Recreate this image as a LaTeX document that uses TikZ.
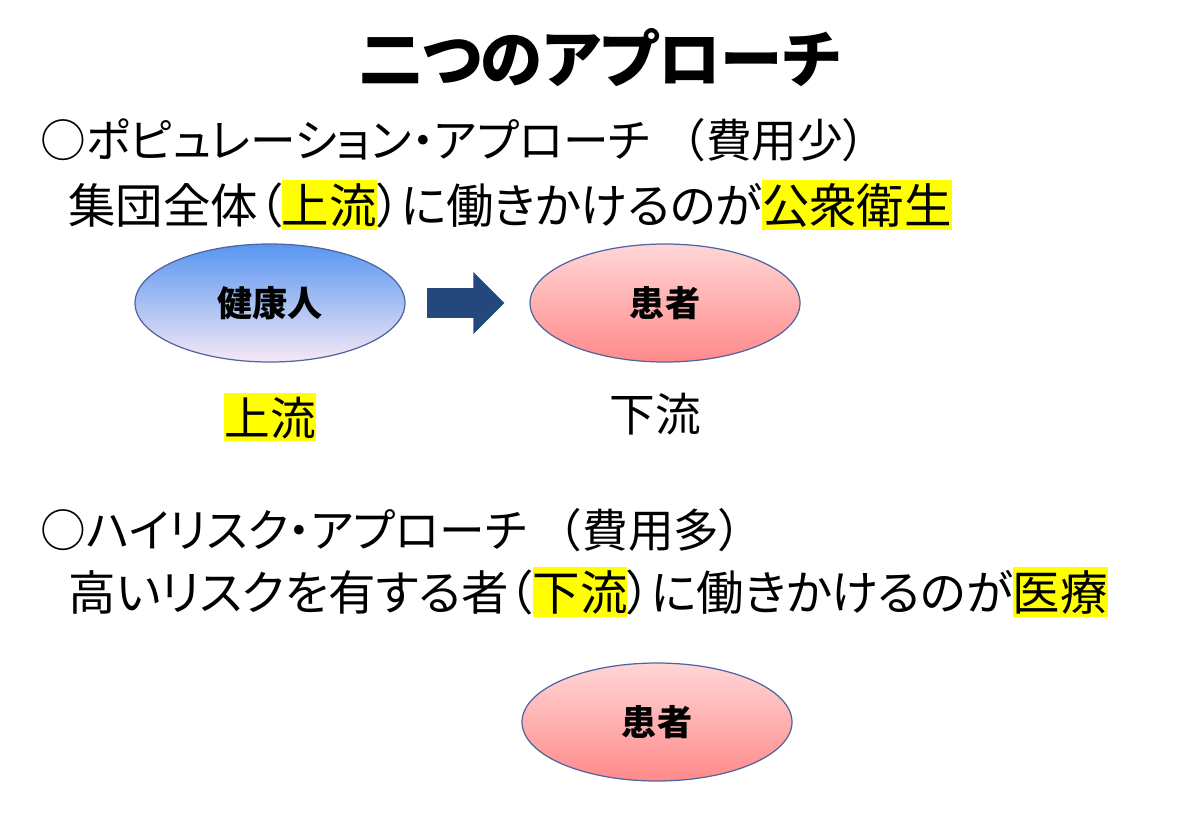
\documentclass[tikz,border=0pt]{standalone}
\usepackage{fontspec}
\setmainfont{Noto Sans CJK JP}[RawFeature=+palt]
\usepackage{xcolor}
\usetikzlibrary{shapes.geometric, positioning, arrows.meta}
\definecolor{hlyellow}{RGB}{255,255,0}
\definecolor{arrowblue}{RGB}{36,72,124}
\definecolor{rimblue}{RGB}{80,100,160}
\newcommand{\hl}[1]{{\setlength{\fboxsep}{0pt}\colorbox{hlyellow}{\rule[-0.14em]{0pt}{1.06em}#1}}}
\newcommand{\wideparen}{{\addfontfeature{RawFeature=-palt}（}}
\tikzstyle{heading} = [font=\fontsize{35.5pt}{40pt}\selectfont\bfseries]
\tikzstyle{textline} = [anchor=west, inner sep=0pt, font=\fontsize{26pt}{30pt}\selectfont]
\tikzstyle{bodyline} = [anchor=west, inner sep=0pt, font=\fontsize{27pt}{32pt}\selectfont]
\tikzstyle{streamlabel} = [inner sep=0pt, font=\fontsize{26pt}{30pt}\selectfont]
\tikzstyle{healthy} = [ellipse, minimum width=5.4cm, minimum height=2.36cm, draw=rimblue, line width=0.7pt, top color={rgb,255:red,88;green,150;blue,240}, bottom color={rgb,255:red,246;green,232;blue,246}, font=\fontsize{20pt}{24pt}\selectfont\bfseries]
\tikzstyle{patient} = [ellipse, minimum width=5.4cm, minimum height=2.36cm, draw=rimblue, line width=0.7pt, top color={rgb,255:red,255;green,214;blue,214}, bottom color={rgb,255:red,255;green,138;blue,138}, font=\fontsize{20pt}{24pt}\selectfont\bfseries]
\tikzstyle{blockarrow} = [draw=arrowblue, line width=0.6cm, -{Triangle[length=0.62cm, width=1.2cm]}, shorten <=0.42cm, shorten >=0.5cm]

\begin{document}
\begin{tikzpicture}
		\useasboundingbox (0,0) rectangle (24,-16.62);
		\node (Title)[heading] at (12,-1.16) {二つのアプローチ};
		\node (Population)[textline] at (0.8,-2.8) {○ポピュレーション・アプローチ \wideparen 費用少）};
		\node (Population Text)[bodyline] at (1.36,-4.1) {集団全体（\hl{上流}）に働きかけるのが\hl{公衆衛生}};
		\node (Healthy)[healthy] at (5.4,-6.06) {健康人};
		\node (Patient)[patient] at (13.3,-6.06) {患者};
		\node (Upstream)[streamlabel, below = 0.6cm of Healthy]{\hl{上流}};
		\node (Downstream)[streamlabel, below = 0.6cm of Patient, xshift=-0.2cm]{下流};
		\draw [blockarrow] (Healthy) -- (Patient);
		\node (High Risk)[textline] at (0.8,-10.6) {○ハイリスク・アプローチ \wideparen 費用多）};
		\node (High Risk Text)[bodyline] at (1.36,-11.84) {高いリスクを有する者（\hl{下流}）に働きかけるのが\hl{医療}};
		\node (Patient Only)[patient] at (13.14,-14.44) {患者};
	\end{tikzpicture}
\end{document}
